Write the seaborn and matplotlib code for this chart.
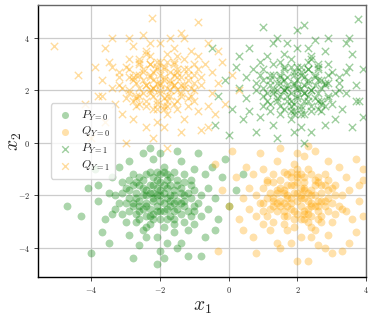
import matplotlib
matplotlib.use('Agg')

import matplotlib.pyplot as plt
import seaborn as sns

# P_{Y=0}: green circles around (-2, -2)
p0 = [(-2.1,-2.0),(-1.8,-1.7),(-2.4,-2.3),(-1.5,-2.2),(-2.6,-1.6),(-2.0,-2.6),(-1.2,-1.9),(-2.9,-2.1),(-1.7,-1.3),(-2.3,-1.1),
      (-2.2,-2.9),(-1.4,-2.7),(-3.1,-1.5),(-0.9,-2.3),(-2.7,-2.7),(-1.9,-0.9),(-1.1,-1.4),(-3.3,-2.5),(-2.5,-3.3),(-1.6,-3.1),
      (-0.6,-1.7),(-3.5,-1.9),(-2.0,-1.5),(-1.3,-2.4),(-2.8,-1.2),(-2.2,-0.6),(-0.8,-2.8),(-3.0,-3.0),(-1.8,-2.5),(-2.4,-1.8),
      (-1.0,-1.0),(-3.8,-2.2),(-2.6,-2.2),(-1.5,-1.6),(-2.1,-3.6),(-0.4,-2.1),(-3.2,-0.9),(-1.7,-2.0),(-2.9,-3.5),(-1.2,-3.3),
      (-0.2,-1.3),(-4.1,-1.7),(-2.3,-2.5),(-1.9,-1.9),(-2.5,-0.4),(-1.4,-0.7),(-3.6,-2.9),(-0.7,-3.6),(-2.0,-4.1),(-1.1,-2.1),
      (-2.7,-1.9),(-1.6,-2.3),(-2.2,-1.3),(-3.4,-1.3),(-0.5,-0.9),(-1.3,-1.5),(-2.8,-2.4),(-1.8,-3.8),(-2.4,-2.8),(-3.0,-1.7),
      (-1.0,-2.6),(0.2,-1.8),(-4.7,-2.4),(-2.6,-3.9),(-1.5,-0.3),(-0.3,-2.9),(-3.7,-3.4),(-2.1,-1.7),(-1.7,-2.8),(-2.9,-0.7),
      (-4.0,-4.2),(-2.8,-4.4),(-2.1,-4.6),(-1.9,-4.4),(-1.2,-4.3),(-0.8,-4.3),(0.4,-1.2),(-0.1,-0.6),(-3.9,-1.0),(-1.4,-3.8),
      (-2.3,-0.2),(-0.9,-0.4),(-2.5,-1.4),(-1.6,-1.1),(-2.0,-2.2),(-1.8,-2.1),(-2.3,-1.9),(-2.1,-2.4),(-1.4,-1.9),(-2.6,-2.6),
      (-3.3,-2.0),(-0.6,-2.5),(-1.9,-3.2),(-2.7,-3.0),(-1.1,-2.8),(-3.1,-2.7),(-0.4,-3.3),(-2.9,-1.4),(-4.3,-2.8),(-1.3,-1.2),
      (-2.0,-0.4),(-3.5,-3.8),(0.0,-2.4),(-1.5,-4.0),(-0.7,-1.2),(-2.4,-3.6),(-3.8,-1.6),(-1.0,-3.1),(-2.2,-2.1),(-1.6,-2.6),
      (-2.5,-2.0),(-1.9,-1.6),(-2.2,-2.7),(-1.7,-2.4),(-2.8,-1.6),(-1.3,-2.2),(-2.0,-1.2),(-2.4,-2.4),(-1.6,-1.8),(-3.0,-2.3),
      (-2.3,-1.6),(-1.9,-2.3),(-2.5,-2.5),(-1.6,-2.0),(-2.1,-1.4),(-1.8,-2.9),(-2.7,-2.1),(-1.4,-1.7),(-2.2,-2.2),(-2.0,-1.8),
      (-1.5,-2.5),(-2.4,-1.2),(-2.9,-2.6),(-1.2,-2.6),(-2.6,-1.3),(-1.8,-1.4),(-2.3,-3.1),(-1.0,-1.8),(-3.1,-1.9),(-2.0,-2.9),
      (-1.7,-1.6),(-2.5,-1.7),(-2.1,-2.6),(-1.3,-2.0),(-2.8,-2.3),(-1.6,-3.4),(-2.4,-2.0),(-1.9,-1.1),(-3.2,-2.3),(-1.1,-1.6),
      (-2.2,-1.6),(-1.7,-2.2),(-2.6,-2.9),(-1.4,-2.3),(-2.0,-2.0),(-2.3,-2.8),(-1.9,-2.6),(-2.7,-1.5),(-1.5,-1.4),(-2.1,-1.1),
      (-0.8,-2.0),(-3.4,-2.7),(-1.3,-3.0),(-2.9,-1.8),(-1.0,-2.4),(-2.4,-3.2),(-1.8,-1.2),(-2.6,-2.4),(-1.6,-2.9),(-2.2,-1.9)]

# Q_{Y=0}: orange circles around (2, -2)
q0 = [(2.1,-2.0),(1.8,-1.6),(2.4,-2.3),(1.5,-2.2),(2.6,-1.5),(2.0,-2.7),(1.2,-1.9),(2.9,-2.1),(1.7,-1.2),(2.3,-1.0),
      (2.2,-2.9),(1.4,-2.6),(3.1,-1.6),(0.9,-2.3),(2.7,-2.8),(1.9,-0.8),(1.1,-1.4),(3.3,-2.5),(2.5,-3.3),(1.6,-3.1),
      (0.6,-1.7),(3.5,-1.8),(2.0,-1.5),(1.3,-2.4),(2.8,-1.2),(2.2,-0.5),(0.8,-2.8),(3.0,-3.0),(1.8,-2.5),(2.4,-1.8),
      (1.0,-1.0),(3.8,-2.2),(2.6,-2.2),(1.5,-1.7),(2.1,-3.6),(0.4,-2.1),(3.2,-0.9),(1.7,-2.0),(2.9,-3.5),(1.2,-3.3),
      (0.2,-1.3),(3.9,-1.4),(2.3,-2.5),(1.9,-1.9),(2.5,-0.3),(1.4,-0.7),(3.6,-2.9),(0.7,-3.6),(2.0,-4.5),(1.1,-2.1),
      (2.7,-1.9),(1.6,-2.3),(2.2,-1.3),(3.4,-1.3),(0.5,-0.9),(1.3,-1.5),(2.8,-2.4),(1.8,-3.8),(2.4,-2.8),(3.0,-1.7),
      (1.0,-2.6),(-0.2,-1.8),(3.7,-0.6),(2.6,-3.9),(1.5,-0.2),(0.3,-2.9),(3.7,-3.4),(2.1,-1.7),(1.7,-2.8),(2.9,-0.7),
      (-0.3,-4.1),(0.8,-4.2),(2.3,-4.5),(3.0,-4.2),(3.3,-4.1),(2.8,-4.0),(-0.4,-0.8),(0.1,-0.3),(3.9,-1.0),(1.4,-3.8),
      (2.3,-0.1),(0.9,-0.4),(2.5,-1.4),(1.6,-1.1),(2.0,-2.2),(1.8,-2.1),(2.3,-1.9),(2.1,-2.4),(1.4,-1.9),(2.6,-2.6),
      (3.3,-2.0),(0.6,-2.5),(1.9,-3.2),(2.7,-3.0),(1.1,-2.8),(3.1,-2.7),(0.4,-3.3),(2.9,-1.4),(3.9,-2.8),(1.3,-1.2),
      (2.0,-0.4),(3.5,-3.8),(0.0,-2.4),(1.5,-4.0),(0.7,-1.2),(2.4,-3.6),(3.8,-1.6),(1.0,-3.1),(2.2,-2.1),(1.6,-2.6),
      (2.5,-2.0),(1.9,-1.6),(2.2,-2.7),(1.7,-2.4),(2.8,-1.6),(1.3,-2.2),(2.0,-1.2),(2.4,-2.4),(1.6,-1.8),(3.0,-2.3),
      (2.2,-1.7),(1.8,-2.3),(2.5,-2.4),(1.6,-1.9),(2.0,-1.3),(1.9,-2.9),(2.7,-2.2),(1.4,-1.8),(2.3,-2.2),(2.0,-1.9),
      (1.5,-2.4),(2.4,-1.2),(2.9,-2.6),(1.2,-2.5),(2.6,-1.3),(1.8,-1.3),(2.3,-3.0),(1.0,-1.7),(3.1,-2.0),(2.1,-2.9),
      (1.7,-1.6),(2.5,-1.6),(2.2,-2.6),(1.3,-2.1),(2.8,-2.2),(1.7,-3.3),(2.4,-2.0),(2.0,-1.0),(3.2,-2.4),(1.1,-1.5),
      (2.2,-1.5),(1.7,-2.1),(2.6,-2.9),(1.4,-2.3),(2.1,-2.1),(2.3,-2.7),(1.9,-2.6),(2.7,-1.6),(1.5,-1.4),(2.1,-1.2),
      (0.8,-2.0),(3.4,-2.6),(1.3,-3.0),(2.9,-1.8),(1.0,-2.3),(2.4,-3.2),(1.8,-1.1),(2.6,-2.4),(1.6,-2.8),(2.2,-1.8)]

# P_{Y=1}: green crosses around (2, 2)
p1 = [(2.0,2.1),(1.7,1.8),(2.3,2.4),(1.4,2.0),(2.6,1.6),(1.9,2.7),(1.1,1.9),(2.8,2.2),(1.6,1.3),(2.2,1.1),
      (2.1,2.9),(1.3,2.6),(3.0,1.5),(0.8,2.3),(2.6,2.8),(1.8,0.9),(1.0,1.4),(3.2,2.5),(2.4,3.3),(1.5,3.1),
      (0.5,1.7),(3.4,1.9),(1.9,1.5),(1.2,2.4),(2.7,1.2),(2.1,0.6),(0.7,2.8),(2.9,3.0),(1.7,2.5),(2.3,1.8),
      (0.9,1.0),(3.7,2.2),(2.5,2.2),(1.4,1.6),(2.0,3.6),(0.3,2.1),(3.1,0.9),(1.6,2.0),(2.8,3.5),(1.1,3.3),
      (0.1,1.3),(3.8,1.6),(2.2,2.5),(1.8,1.9),(2.4,0.4),(1.3,0.7),(3.5,2.9),(0.6,3.6),(2.0,4.3),(1.0,2.1),
      (2.6,1.9),(1.5,2.3),(2.1,1.3),(3.3,1.3),(0.4,0.9),(1.2,1.5),(2.7,2.4),(1.7,3.8),(2.3,2.8),(2.9,1.7),
      (0.9,2.6),(-0.3,1.8),(3.6,0.6),(2.5,3.9),(1.4,0.2),(0.2,2.9),(3.6,3.4),(2.0,1.7),(1.6,2.8),(2.8,0.7),
      (3.75,4.7),(1.0,4.4),(2.2,4.5),(2.9,4.0),(-0.4,0.7),(0.0,0.3),(3.9,1.0),(1.3,3.8),(2.2,0.0),(0.8,0.4),
      (2.4,1.4),(1.5,1.1),(1.9,2.2),(1.7,2.1),(2.2,1.9),(2.0,2.4),(1.3,1.9),(2.5,2.6),(3.2,2.0),(0.5,2.5),
      (1.8,3.2),(2.6,3.0),(1.0,2.8),(3.0,2.7),(0.3,3.3),(2.8,1.4),(3.9,2.8),(1.2,1.2),(1.9,0.4),(3.4,3.8),
      (-0.1,2.4),(1.4,4.0),(0.6,1.2),(2.3,3.6),(3.7,1.6),(0.9,3.1),(2.1,2.1),(1.5,2.6),(2.4,2.0),(1.8,1.6),
      (2.1,2.7),(1.6,2.4),(2.7,1.6),(1.2,2.2),(1.9,1.2),(2.3,2.3),(1.5,1.8),(2.9,2.3),(-0.5,3.6),(3.5,4.0),
      (2.3,1.6),(1.9,2.3),(2.5,2.5),(1.6,2.0),(2.1,1.4),(1.8,2.9),(2.7,2.1),(1.4,1.7),(2.2,2.2),(2.0,1.8),
      (1.5,2.5),(2.4,1.2),(2.9,2.6),(1.2,2.6),(2.6,1.3),(1.8,1.4),(2.3,3.1),(1.0,1.8),(3.1,1.9),(2.0,2.9),
      (1.7,1.6),(2.5,1.7),(2.1,2.6),(1.3,2.0),(2.8,2.3),(1.6,3.4),(2.4,2.0),(1.9,1.1),(3.2,2.3),(1.1,1.6),
      (2.2,1.6),(1.7,2.2),(2.6,2.9),(1.4,2.3),(2.0,2.0),(2.3,2.8),(1.9,2.6),(2.7,1.5),(1.5,1.4),(2.1,1.1),
      (0.8,2.0),(3.4,2.7),(1.3,3.0),(2.9,1.8),(1.0,2.4),(2.4,3.2),(1.8,1.2),(2.6,2.4),(1.6,2.9),(2.2,1.9)]

# Q_{Y=1}: orange crosses around (-2, 2.2)
q1 = [(-2.0,2.3),(-1.7,2.0),(-2.3,2.6),(-1.4,2.2),(-2.6,1.8),(-1.9,2.9),(-1.1,2.1),(-2.8,2.4),(-1.6,1.5),(-2.2,1.3),
      (-2.1,3.1),(-1.3,2.8),(-3.0,1.7),(-0.8,2.5),(-2.6,3.0),(-1.8,1.1),(-1.0,1.6),(-3.2,2.7),(-2.4,3.5),(-1.5,3.3),
      (-0.5,1.9),(-3.4,2.1),(-1.9,1.7),(-1.2,2.6),(-2.7,1.4),(-2.1,0.8),(-0.7,3.0),(-2.9,3.2),(-1.7,2.7),(-2.3,2.0),
      (-0.9,1.2),(-3.7,2.4),(-2.5,2.4),(-1.4,1.8),(-2.0,3.8),(-0.3,2.3),(-3.1,1.1),(-1.6,2.2),(-2.8,3.7),(-1.1,3.5),
      (-0.1,1.5),(-3.8,1.8),(-2.2,2.7),(-1.8,2.1),(-2.4,0.6),(-1.3,0.9),(-3.5,3.1),(-0.6,3.8),(-2.24,4.75),(-1.0,2.3),
      (-2.6,2.1),(-1.5,2.5),(-2.1,1.5),(-3.3,1.5),(-0.4,1.1),(-1.2,1.7),(-2.7,2.6),(-1.7,4.0),(-2.3,3.0),(-2.9,1.9),
      (-0.9,2.8),(0.3,2.0),(-3.6,0.8),(-2.5,4.1),(-1.4,0.4),(-0.2,3.1),(-3.6,3.6),(-2.0,1.9),(-1.6,3.0),(-2.8,0.9),
      (-5.08,3.7),(-4.2,1.5),(-4.0,0.2),(-3.0,0.0),(-1.8,-0.2),(-0.6,0.6),(-3.9,2.9),(-1.3,4.0),(-2.2,0.2),(-0.8,0.5),
      (-2.4,1.6),(-1.5,1.3),(-1.9,2.4),(-1.7,2.3),(-2.2,2.1),(-2.0,2.6),(-1.3,2.1),(-2.5,2.8),(-3.2,2.2),(-0.5,2.7),
      (-1.8,3.4),(-2.6,3.2),(-1.0,3.0),(-3.0,2.9),(-0.3,3.5),(-2.8,1.6),(-4.4,2.6),(-1.2,1.4),(-1.9,0.6),(-3.4,4.0),
      (0.1,2.6),(-1.4,4.2),(-0.6,1.4),(-2.3,3.8),(-3.7,1.8),(-0.9,3.3),(-2.1,2.3),(-1.5,2.8),(-2.4,2.2),(-1.8,1.8),
      (-2.1,2.9),(-1.6,2.6),(-2.7,1.8),(-1.2,2.4),(-1.9,1.4),(-2.3,2.5),(-1.5,2.0),(-2.9,2.5),(-0.9,4.6),(-2.9,4.0),
      (-2.3,1.9),(-1.9,2.5),(-2.5,2.7),(-1.6,2.2),(-2.1,1.6),(-1.8,3.1),(-2.7,2.3),(-1.4,1.9),(-2.2,2.4),(-2.0,2.0),
      (-1.5,2.7),(-2.4,1.4),(-2.9,2.8),(-1.2,2.8),(-2.6,1.5),(-1.8,1.6),(-2.3,3.3),(-1.0,2.0),(-3.1,2.1),(-2.0,3.1),
      (-1.7,1.8),(-2.5,1.9),(-2.1,2.8),(-1.3,2.2),(-2.8,2.5),(-1.6,3.6),(-2.4,2.2),(-1.9,1.3),(-3.2,2.5),(-1.1,1.8),
      (-2.2,1.8),(-1.7,2.4),(-2.6,3.1),(-1.4,2.5),(-2.0,2.2),(-2.3,3.0),(-1.9,2.8),(-2.7,1.7),(-1.5,1.6),(-2.1,1.3),
      (-0.8,2.2),(-3.4,2.9),(-1.3,3.2),(-2.9,2.0),(-1.0,2.6),(-2.4,3.4),(-1.8,1.4),(-2.6,2.6),(-1.6,3.1),(-2.2,2.1)]

labels = [r'$P_{Y=0}$', r'$Q_{Y=0}$', r'$P_{Y=1}$', r'$Q_{Y=1}$']
ticks = [-4, -2, 0, 2, 4]

sns.set_style("whitegrid")
plt.rcParams['mathtext.fontset'] = 'cm'
plt.rcParams['font.family'] = ['cmr10', 'DejaVu Serif']
plt.rcParams['axes.formatter.use_mathtext'] = True

fig = plt.figure(figsize=(3.74, 3.15), dpi=100)
ax = fig.add_axes([0.102, 0.121, 0.877, 0.863])

groups = [(p0, 'green', 'o'), (q0, 'orange', 'o'), (p1, 'green', 'x'), (q1, 'orange', 'x')]
for (pts, col, mk), lab in zip(groups, labels):
    xs = [p[0] for p in pts]
    ys = [p[1] for p in pts]
    if mk == 'o':
        sns.scatterplot(x=xs, y=ys, color=col, marker='o', s=32, alpha=0.33,
                        linewidth=0, label=lab, ax=ax)
    else:
        sns.scatterplot(x=xs, y=ys, color=col, marker='x', s=28, alpha=0.38,
                        linewidth=1.0, label=lab, ax=ax)

ax.set_xlim(-5.55, 4.0)
ax.set_ylim(-5.1, 5.25)
ax.set_xticks(ticks)
ax.set_yticks(ticks)
ax.tick_params(labelsize=6, length=3, width=0.6, left=True, bottom=True, pad=3)
ax.grid(True, color='#cccccc', linewidth=0.9)
for side in ['left', 'bottom']:
    ax.spines[side].set_color('black')
    ax.spines[side].set_linewidth(1.0)
for side in ['top', 'right']:
    ax.spines[side].set_color('#666666')
    ax.spines[side].set_linewidth(1.0)

ax.set_xlabel(r'$x_1$', fontsize=14, labelpad=2)
ax.set_ylabel(r'$x_2$', fontsize=14, labelpad=-5)

ax.legend(loc='center left', bbox_to_anchor=(0.02, 0.5), fontsize=8.5,
          frameon=True, handletextpad=0.6, labelspacing=0.25, borderpad=0.45,
          handlelength=1.5, markerscale=0.9)

plt.savefig("out.png", dpi=100)
